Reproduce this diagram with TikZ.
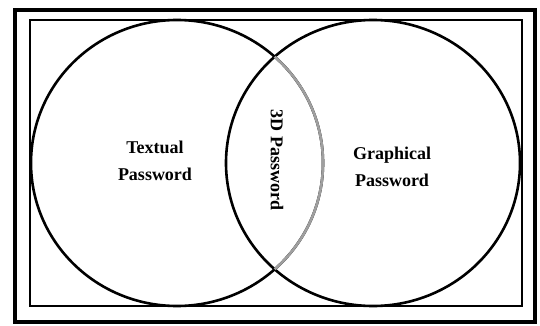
\documentclass[tikz,border=0pt]{standalone}
\usepackage{fontspec}
\setmainfont{Liberation Serif}
\tikzset{
  lbl/.style={align=center, font=\fontsize{18}{27}\selectfont\bfseries, inner sep=0pt},
  ring/.style={line width=2.6pt}
}
\begin{document}
\begin{tikzpicture}[x=1pt, y=-1pt]
        \useasboundingbox (0,0) rectangle (540,326);

        % Rahmen
        \draw[line width=4pt] (15,10) rectangle (535,322);
        \draw[line width=2.8pt] (30,20) rectangle (522,306);

        % Kreise
        \draw[ring] (177,163) ellipse[x radius=146pt, y radius=143pt];
        \draw[ring] (373,163) ellipse[x radius=147pt, y radius=143pt];

        % Schnittbereich: grauer Bogen
        \begin{scope}
                \clip (373,163) ellipse[x radius=147pt, y radius=143pt];
                \draw[ring, gray!75] (177,163) ellipse[x radius=146pt, y radius=143pt];
        \end{scope}

        % Beschriftungen
        \node[lbl] (textual) at (155,161) {Textual\\Password};
        \node[lbl] (graphical) at (392,167) {Graphical\\Password};
        \node[lbl, rotate=-90] (threed) at (277,160) {3D Password};

\end{tikzpicture}
\end{document}
